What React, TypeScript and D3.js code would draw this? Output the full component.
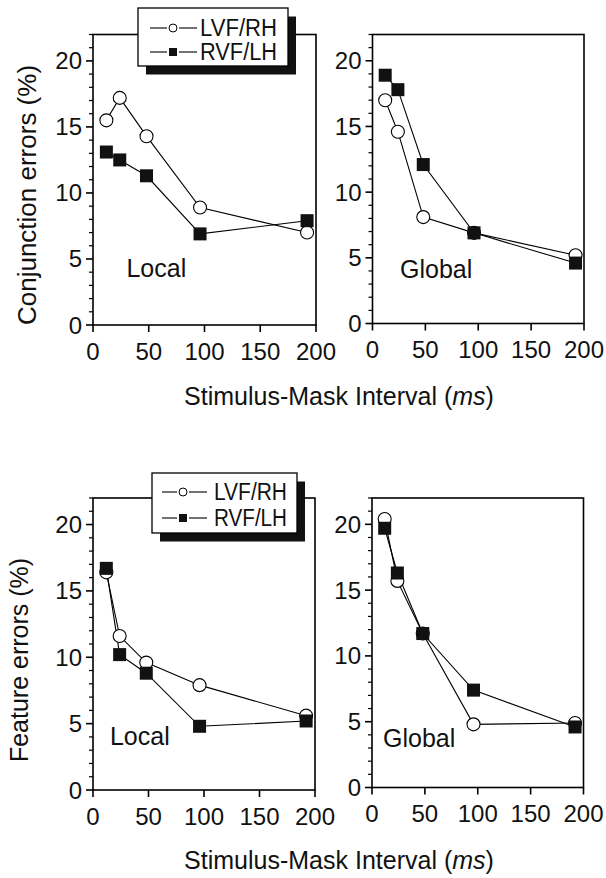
import React from "react";
import * as d3 from "d3";

const msValues = [12, 24, 48, 96, 192];
const conjLocalLVF = [15.5, 17.2, 14.3, 8.9, 7.0];
const conjLocalRVF = [13.1, 12.5, 11.3, 6.9, 7.9];
const conjGlobalLVF = [17.0, 14.6, 8.1, 6.9, 5.2];
const conjGlobalRVF = [18.9, 17.8, 12.1, 6.9, 4.6];
const featLocalLVF = [16.4, 11.6, 9.6, 7.9, 5.6];
const featLocalRVF = [16.7, 10.2, 8.8, 4.8, 5.2];
const featGlobalLVF = [20.4, 15.7, 11.7, 4.8, 4.9];
const featGlobalRVF = [19.7, 16.3, 11.7, 7.4, 4.6];
const xTicks = [0, 50, 100, 150, 200];
const yTicks = [0, 5, 10, 15, 20];
const yMinor = d3.range(0, 23).filter((v) => v % 5 !== 0);
const seriesNames = ["LVF/RH", "RVF/LH"];
const xTitle = "Stimulus-Mask Interval (";
const yTitleTop = "Conjunction errors (%)";
const yTitleBottom = "Feature errors (%)";

const FONT = "'Liberation Sans', Arial, Helvetica, sans-serif";

type PanelProps = {
  left: number; right: number; top: number; bottom: number;
  lvf: number[]; rvf: number[];
  label: string; labelAt: [number, number];
};

function Panel({ left, right, top, bottom, lvf, rvf, label, labelAt }: PanelProps) {
  const x = d3.scaleLinear().domain([0, 200]).range([left, right]);
  const y = d3.scaleLinear().domain([0, 22]).range([bottom, top]);
  const line = d3.line<number>().x((_, i) => x(msValues[i])).y((d) => y(d));
  const sq = 13;
  return (
    <g>
      <rect x={left} y={top} width={right - left} height={bottom - top} fill="none" stroke="#000" strokeWidth={1.6} />
      {xTicks.map((t) => (
        <g key={"x" + t}>
          <line x1={x(t)} x2={x(t)} y1={bottom} y2={bottom + 7} stroke="#000" strokeWidth={1.6} />
          <text x={x(t)} y={bottom + 34.5} textAnchor="middle" fontSize={24} fontFamily={FONT} fill="#111">{t}</text>
        </g>
      ))}
      {yTicks.map((t) => (
        <g key={"y" + t}>
          <line x1={left - 7} x2={left} y1={y(t)} y2={y(t)} stroke="#000" strokeWidth={1.6} />
          <text x={left - 11} y={y(t) + 8.5} textAnchor="end" fontSize={24} fontFamily={FONT} fill="#111">{t}</text>
        </g>
      ))}
      {yMinor.map((t) => (
        <line key={"m" + t} x1={left - 4} x2={left} y1={y(t)} y2={y(t)} stroke="#000" strokeWidth={1.2} />
      ))}
      <path d={line(lvf) || ""} fill="none" stroke="#000" strokeWidth={1.1} />
      <path d={line(rvf) || ""} fill="none" stroke="#000" strokeWidth={1.1} />
      {lvf.map((v, i) => (
        <circle key={"c" + i} cx={x(msValues[i])} cy={y(v)} r={6.5} fill="#fff" stroke="#000" strokeWidth={1.1} />
      ))}
      {rvf.map((v, i) => (
        <rect key={"s" + i} x={x(msValues[i]) - sq / 2} y={y(v) - sq / 2} width={sq} height={sq} fill="#111" />
      ))}
      <text x={x(labelAt[0])} y={y(labelAt[1])} fontSize={25} fontFamily={FONT} fill="#111">{label}</text>
    </g>
  );
}

type LegendProps = { x0: number; y0: number; w: number; h: number; lineX1: number; lineX2: number; markX: number; textX: number; textW: number; rowY: number[] };

function Legend({ x0, y0, w, h, lineX1, lineX2, markX, textX, textW, rowY }: LegendProps) {
  return (
    <g>
      <rect x={x0 + 8} y={y0 + 8.5} width={w} height={h} fill="#111" />
      <rect x={x0} y={y0} width={w} height={h} fill="#fff" stroke="#000" strokeWidth={1.3} />
      {seriesNames.map((name, i) => (
        <g key={name}>
          <line x1={lineX1} x2={markX - 6} y1={rowY[i]} y2={rowY[i]} stroke="#000" strokeWidth={1.1} />
          <line x1={markX + 6} x2={lineX2} y1={rowY[i]} y2={rowY[i]} stroke="#000" strokeWidth={1.1} />
          {i === 0 ? (
            <circle cx={markX} cy={rowY[i]} r={4} fill="#fff" stroke="#000" strokeWidth={1} />
          ) : (
            <rect x={markX - 4} y={rowY[i] - 4} width={8} height={8} fill="#111" />
          )}
          <text x={textX} y={rowY[i] + 8.3} fontSize={23} fontFamily={FONT} fill="#111" textLength={textW} lengthAdjust="spacingAndGlyphs">{name}</text>
        </g>
      ))}
    </g>
  );
}

function XTitle({ cx, baseline }: { cx: number; baseline: number }) {
  return (
    <text x={cx} y={baseline} textAnchor="middle" fontSize={25} fontFamily={FONT} fill="#111">
      {xTitle}
      <tspan fontStyle="italic">ms</tspan>
      {")"}
    </text>
  );
}

export default function App() {
  return (
    <svg width={606} height={878} style={{ position: "absolute", left: 0, top: 0, background: "#fff" }}>
      <rect x={0} y={0} width={606} height={878} fill="#fff" />
      <Panel left={93} right={316} top={34.5} bottom={325} lvf={conjLocalLVF} rvf={conjLocalRVF} label="Local" labelAt={[30, 3.6]} />
      <Panel left={372.5} right={584} top={34.5} bottom={323.5} lvf={conjGlobalLVF} rvf={conjGlobalRVF} label="Global" labelAt={[26, 3.5]} />
      <Panel left={93} right={315} top={498} bottom={790} lvf={featLocalLVF} rvf={featLocalRVF} label="Local" labelAt={[15.3, 3.4]} />
      <Panel left={372} right={583.5} top={498} bottom={787.5} lvf={featGlobalLVF} rvf={featGlobalRVF} label="Global" labelAt={[10.4, 3.1]} />
      <Legend x0={138} y0={8} w={150} h={58} lineX1={150} lineX2={197} markX={173} textX={200} textW={77} rowY={[28, 52]} />
      <Legend x0={152} y0={473} w={145} h={60} lineX1={162} lineX2={207} markX={183} textX={214} textW={73} rowY={[492, 518]} />
      <XTitle cx={339} baseline={405} />
      <XTitle cx={339} baseline={869} />
      <text transform="translate(36,195) rotate(-90)" textAnchor="middle" fontSize={26} fontFamily={FONT} fill="#111">{yTitleTop}</text>
      <text transform="translate(28,660) rotate(-90)" textAnchor="middle" fontSize={25} fontFamily={FONT} fill="#111">{yTitleBottom}</text>
    </svg>
  );
}
